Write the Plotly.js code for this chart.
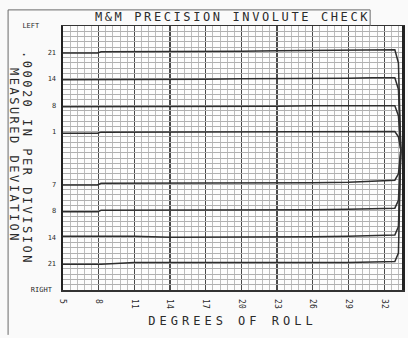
<!DOCTYPE html>
<html><head><meta charset="utf-8">
<script src="https://cdn.plot.ly/plotly-3.0.1.min.js"></script>
<style>
html,body{margin:0;padding:0;background:#fafafa;}
#chart{width:408px;height:338px;}
.gtitle{letter-spacing:2.6px;}
.xtitle{letter-spacing:4.0px;}
.annotation-text{letter-spacing:2.5px;}
</style></head><body><div id="chart"></div>
<script>
// Degrees of roll sampled along each trace
const degrees = [5, 7.9, 8.2, 11, 14, 17, 20, 23, 26, 29, 31, 32.9, 33.2, 33.4];
// Traces (vertical position in chart divisions)
const left21  = [44.9, 44.9, 45.1, 45.1, 45.1, 45.2, 45.2, 45.3, 45.4, 45.4, 45.5, 45.5, 43.0, 26.5];
const left14  = [39.8, 39.8, 39.9, 39.9, 39.9, 39.9, 40.0, 40.0, 40.1, 40.1, 40.2, 40.2, 38.0, 26.5];
const left8   = [34.7, 34.7, 34.8, 34.8, 34.8, 34.8, 34.8, 34.8, 34.9, 34.9, 34.9, 34.9, 33.0, 26.5];
const left1   = [29.7, 29.7, 29.9, 29.9, 29.9, 29.9, 29.9, 29.9, 30.0, 30.0, 30.0, 30.0, 29.0, 26.5];
const right7  = [19.9, 19.9, 20.2, 20.2, 20.2, 20.3, 20.3, 20.3, 20.3, 20.4, 20.6, 20.8, 22.0, 26.5];
const right8  = [14.8, 14.8, 15.1, 15.1, 15.1, 15.1, 15.1, 15.2, 15.2, 15.3, 15.4, 15.5, 17.0, 26.5];
const right14 = [10.2, 10.2, 10.2, 10.2, 10.0, 10.0, 10.0, 10.1, 10.1, 10.2, 10.3, 10.4, 12.0, 26.5];
const right21 = [4.9, 4.9, 4.9, 5.2, 5.2, 5.1, 5.1, 5.1, 5.2, 5.2, 5.3, 5.4, 7.0, 26.5];

// Axis tick labels
const rollTicks  = [5, 8, 11, 14, 17, 20, 23, 26, 29, 32];
const rollLabels = ['5', '8', '11', '14', '17', '20', '23', '26', '29', '32'];
const toothTicks  = [50, 45, 40, 35, 30, 20, 15, 10, 5, 0];
const toothLabels = ['LEFT\u00a0\u00a0\u00a0\u00a0', '21', '14', '8', '1', '7', '8', '14', '21', 'RIGHT\u00a0'];

const seriesList = [left21, left14, left8, left1, right7, right8, right14, right21];
const seriesNames = ['Left 21', 'Left 14', 'Left 8', 'Left 1', 'Right 7', 'Right 8', 'Right 14', 'Right 21'];

// Build y-grid ticks (one per division) with labels only where given
const gridVals = [];
const gridText = [];
for (let v = 0; v <= 50; v++) {
  gridVals.push(v);
  const k = toothTicks.indexOf(v);
  gridText.push(k >= 0 ? toothLabels[k] : '');
}

const ink = '#2b2b2b';
const mono = 'DejaVu Sans Mono, monospace';

const data = seriesList.map((ys, i) => ({
  type: 'scatter', mode: 'lines', name: seriesNames[i],
  x: degrees, y: ys,
  line: {color: '#2e2e2e', width: 1.5},
  hoverinfo: 'skip'
}));

const layout = {
  width: 408, height: 338,
  margin: {l: 63, r: 6, t: 26, b: 48},
  paper_bgcolor: '#fafafa', plot_bgcolor: '#fdfdfd',
  showlegend: false,
  title: {
    text: 'M&M PRECISION INVOLUTE CHECK',
    font: {family: mono, size: 12, color: ink},
    x: 0.5, xref: 'paper', xanchor: 'center',
    y: 1 - 17 / 338, yref: 'container', yanchor: 'middle'
  },
  xaxis: {
    range: [5, 33.5], tickmode: 'array', tickvals: rollTicks, ticktext: rollLabels,
    tickangle: 90, ticks: '', ticklabelstandoff: 6,
    tickfont: {family: mono, size: 8, color: ink},
    showgrid: true, gridcolor: '#4a4a4a', gridwidth: 1.3,
    minor: {dtick: 0.6, tick0: 5, showgrid: true, gridcolor: '#bdbdbd', gridwidth: 1},
    showline: true, mirror: true, linecolor: '#333', linewidth: 1.5,
    zeroline: false, fixedrange: true,
    title: {text: '\u00a0\u00a0DEGREES OF ROLL', font: {family: mono, size: 12, color: ink}, standoff: 8}
  },
  yaxis: {
    range: [0, 50], tickmode: 'array', tickvals: gridVals, ticktext: gridText,
    ticks: '', ticklabelstandoff: 3,
    tickfont: {family: mono, size: 7, color: ink},
    showgrid: true, gridcolor: '#b0b0b0', gridwidth: 1,
    showline: true, mirror: true, linecolor: '#222', linewidth: 2.5,
    zeroline: false, fixedrange: true
  },
  annotations: [
    {text: '.00020 IN PER DIVISION', xref: 'paper', yref: 'paper',
     x: (27 - 63) / 339, y: (290 - 158) / 264, textangle: 90,
     xanchor: 'center', yanchor: 'middle', showarrow: false,
     font: {family: mono, size: 12, color: ink}},
    {text: 'MEASURED DEVIATION', xref: 'paper', yref: 'paper',
     x: (14 - 63) / 339, y: (290 - 155) / 264, textangle: 90,
     xanchor: 'center', yanchor: 'middle', showarrow: false,
     font: {family: mono, size: 12, color: ink}}
  ],
  shapes: [
    {type: 'line', xref: 'paper', yref: 'paper', x0: -0.162, x1: -0.162, y0: -0.170, y1: 1.061, line: {color: '#6a6a6a', width: 1}},
    {type: 'line', xref: 'paper', yref: 'paper', x0: -0.162, x1: 0.906, y0: 1.061, y1: 1.061, line: {color: '#6a6a6a', width: 1}},
    {type: 'line', xref: 'paper', yref: 'paper', x0: 0.906, x1: 0.906, y0: 1.0, y1: 1.061, line: {color: '#6a6a6a', width: 1}}
  ]
};

Plotly.newPlot('chart', data, layout, {staticPlot: true, displayModeBar: false});
</script></body></html>
